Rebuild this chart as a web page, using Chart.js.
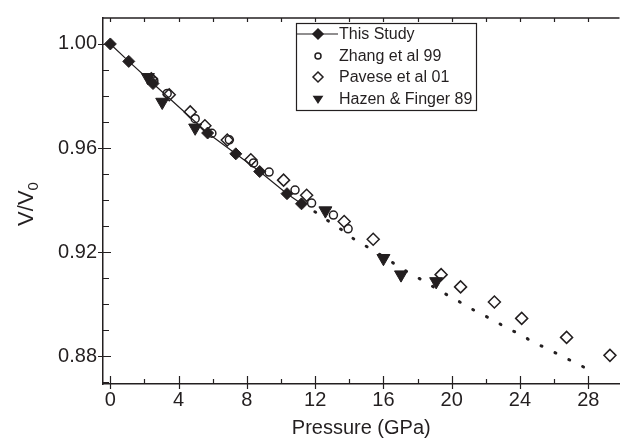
<!DOCTYPE html>
<html>
<head>
<meta charset="utf-8">
<script src="https://cdn.jsdelivr.net/npm/chart.js@4.4.0/dist/chart.umd.min.js"></script>
<style>
  html, body { margin: 0; padding: 0; background: #fff; }
</style>
</head>
<body>
<canvas id="chart" width="628" height="440"></canvas>
<script>
// This Study (filled diamonds, solid line)
const studyP = [0, 1.08, 2.5, 5.7, 7.35, 8.75, 10.35, 11.2];
const studyV = [1.000, 0.9933, 0.9848, 0.9658, 0.9578, 0.9510, 0.9425, 0.9386];

// Fit extrapolation (dotted curve)
const fitP = [11.2, 12.1, 12.84, 13.7, 14.4, 15.3, 16.9, 17.65, 18.5, 19.2, 20.05, 20.8, 21.6, 22.45, 23.2, 24.0, 24.75, 25.6, 26.39, 27.2, 28.0];
const fitV = [0.9386, 0.9351, 0.9317, 0.9280, 0.9244, 0.9212, 0.9145, 0.9114, 0.9086, 0.9055, 0.9025, 0.8997, 0.8966, 0.8940, 0.8909, 0.8886, 0.8855, 0.8830, 0.8803, 0.8777, 0.8750];

// Zhang et al 99 (open circles)
const zhangP = [2.55, 3.33, 4.97, 5.95, 6.97, 8.39, 9.3, 10.82, 11.79, 13.07, 13.93];
const zhangV = [0.9858, 0.9810, 0.9713, 0.9657, 0.9632, 0.9543, 0.9508, 0.9439, 0.9389, 0.9343, 0.9290];

// Pavese et al 01 (open diamonds)
const paveseP = [2.4, 3.45, 4.68, 5.54, 6.85, 8.23, 10.15, 11.5, 13.7, 15.4, 19.38, 20.52, 22.5, 24.1, 26.73, 29.27];
const paveseV = [0.9866, 0.9805, 0.9739, 0.9686, 0.9631, 0.9555, 0.9477, 0.9419, 0.9318, 0.9250, 0.9114, 0.9067, 0.9009, 0.8946, 0.8873, 0.8804];

// Hazen & Finger 89 (filled down triangles)
const hazenP = [2.2, 3.04, 4.97, 12.6, 16.0, 17.03, 19.09];
const hazenV = [0.9872, 0.9777, 0.9678, 0.9360, 0.9177, 0.9114, 0.9088];

const xTicks = [0, 4, 8, 12, 16, 20, 24, 28];
const yTicks = [0.88, 0.92, 0.96, 1.00];

const ink = '#231f20';
const font = '"Liberation Sans", Arial, Helvetica, sans-serif';

function pts(p, v) {
    return p.map((x, i) => ({ x: x, y: v[i] }));
}

// ticks (in/out), top frame line, y title with subscript, legend box
const framePlugin = {
    id: 'frame',
    afterDraw(chart) {
        const ctx = chart.ctx;
        const a = chart.chartArea;
        const xs = chart.scales.x, ys = chart.scales.y;
        ctx.save();
        ctx.strokeStyle = ink;
        ctx.lineWidth = 1.5;
        ctx.beginPath();
        ctx.moveTo(a.left, a.top);
        ctx.lineTo(a.right, a.top);
        ctx.stroke();

        ctx.lineWidth = 1.2;
        ctx.beginPath();
        for (let p = 0; p <= 30; p += 2) {
            const px = Math.round(xs.getPixelForValue(p)) + 0.5;
            if (px > a.right) continue;
            const major = p % 4 === 0;
            ctx.moveTo(px, a.bottom + (major ? 5 : 0));
            ctx.lineTo(px, a.bottom - (major ? 8 : 5));
            ctx.moveTo(px, a.top);
            ctx.lineTo(px, a.top + 4);
        }
        for (let k = 87; k <= 100; k++) {
            const py = Math.round(ys.getPixelForValue(k / 100)) + 0.5;
            const major = k % 4 === 0;
            ctx.moveTo(a.left - (major ? 5 : 0), py);
            ctx.lineTo(a.left + (major ? 8 : 6), py);
        }
        ctx.stroke();

        // y axis title V/V0
        ctx.fillStyle = ink;
        ctx.translate(33, 204);
        ctx.rotate(-Math.PI / 2);
        ctx.textBaseline = 'alphabetic';
        const main = 'V/V';
        ctx.font = '22px ' + font;
        const w1 = ctx.measureText(main).width;
        ctx.font = '15px ' + font;
        const w2 = ctx.measureText('0').width;
        const x0 = -(w1 + w2) / 2;
        ctx.font = '22px ' + font;
        ctx.textAlign = 'left';
        ctx.fillText(main, x0, 0);
        ctx.font = '15px ' + font;
        ctx.fillText('0', x0 + w1, 5);
        ctx.restore();

        // legend
        ctx.save();
        ctx.strokeStyle = ink;
        ctx.lineWidth = 1.2;
        ctx.strokeRect(296.5, 23.5, 180, 87);
        const rows = [34, 56, 77, 99];
        const mx = 318;
        ctx.font = '16px ' + font;
        ctx.textBaseline = 'middle';
        ctx.textAlign = 'left';
        chart.data.datasets.filter(d => !d.hideInLegend).forEach((d, i) => {
            const ry = rows[i];
            ctx.fillStyle = ink;
            ctx.strokeStyle = ink;
            ctx.lineWidth = 1.2;
            if (d.showLine) {
                ctx.beginPath();
                ctx.moveTo(297, ry);
                ctx.lineTo(338, ry);
                ctx.stroke();
            }
            const r = d.legendRadius;
            ctx.beginPath();
            if (d.pointStyle === 'circle') {
                ctx.arc(mx, ry, r, 0, Math.PI * 2);
            } else if (d.pointStyle === 'rectRot') {
                ctx.moveTo(mx, ry - r); ctx.lineTo(mx + r, ry);
                ctx.lineTo(mx, ry + r); ctx.lineTo(mx - r, ry);
                ctx.closePath();
            } else {
                ctx.moveTo(mx - r, ry - r * 0.6); ctx.lineTo(mx + r, ry - r * 0.6);
                ctx.lineTo(mx, ry + r * 0.9);
                ctx.closePath();
            }
            if (d.legendFilled) ctx.fill();
            ctx.lineWidth = 1.5;
            ctx.stroke();
            ctx.fillStyle = ink;
            ctx.fillText(d.label, 339, ry + 1);
        });
        ctx.restore();
    }
};

new Chart(document.getElementById('chart'), {
    type: 'scatter',
    data: {
        datasets: [
            {
                label: 'This Study',
                data: pts(studyP, studyV),
                showLine: true,
                borderColor: ink,
                borderWidth: 1.2,
                pointStyle: 'rectRot',
                pointRadius: 6,
                pointBackgroundColor: ink,
                pointBorderColor: ink,
                pointBorderWidth: 1,
                legendRadius: 5,
                legendFilled: true
            },
            {
                label: 'Zhang et al 99',
                data: pts(zhangP, zhangV),
                pointStyle: 'circle',
                pointRadius: 4,
                pointBackgroundColor: 'rgba(0,0,0,0)',
                pointBorderColor: ink,
                pointBorderWidth: 1.5,
                legendRadius: 3,
                legendFilled: false
            },
            {
                label: 'Pavese et al 01',
                data: pts(paveseP, paveseV),
                pointStyle: 'rectRot',
                pointRadius: 6,
                pointBackgroundColor: 'rgba(0,0,0,0)',
                pointBorderColor: ink,
                pointBorderWidth: 1.5,
                legendRadius: 5,
                legendFilled: false
            },
            {
                label: 'Hazen & Finger 89',
                data: pts(hazenP, hazenV),
                pointStyle: 'triangle',
                pointRotation: 180,
                pointRadius: 7.5,
                pointBackgroundColor: ink,
                pointBorderColor: ink,
                pointBorderWidth: 1,
                legendRadius: 4,
                legendFilled: true
            },
            {
                label: 'fit',
                hideInLegend: true,
                data: pts(fitP, fitV),
                showLine: true,
                borderColor: ink,
                borderWidth: 3,
                borderDash: [1, 14.5],
                borderCapStyle: 'round',
                pointRadius: 0
            }
        ]
    },
    options: {
        responsive: false,
        animation: false,
        devicePixelRatio: 1,
        layout: { padding: { top: 13, right: 0, left: 0, bottom: 0 } },
        plugins: {
            legend: { display: false },
            tooltip: { enabled: false }
        },
        scales: {
            x: {
                type: 'linear',
                min: -0.43,
                max: 29.83,
                afterBuildTicks: s => { s.ticks = xTicks.map(v => ({ value: v })); },
                afterFit: s => { s.height = 56; },
                grid: { display: false, drawTicks: false },
                border: { display: true, color: ink, width: 1.5 },
                ticks: {
                    color: ink,
                    padding: 4,
                    font: { family: font, size: 20 },
                    callback: v => String(v)
                },
                title: {
                    display: true,
                    text: 'Pressure (GPa)',
                    color: ink,
                    font: { family: font, size: 20 },
                    padding: { top: 0, bottom: 0 }
                }
            },
            y: {
                type: 'linear',
                min: 0.8694,
                max: 1.00997,
                afterBuildTicks: s => { s.ticks = yTicks.map(v => ({ value: v })); },
                afterFit: s => { s.width = 103; },
                grid: { display: false, drawTicks: false },
                border: { display: true, color: ink, width: 1.5 },
                ticks: {
                    color: ink,
                    padding: 6,
                    font: { family: font, size: 20 },
                    callback: v => v.toFixed(2)
                }
            }
        }
    },
    plugins: [framePlugin]
});
</script>
</body>
</html>
